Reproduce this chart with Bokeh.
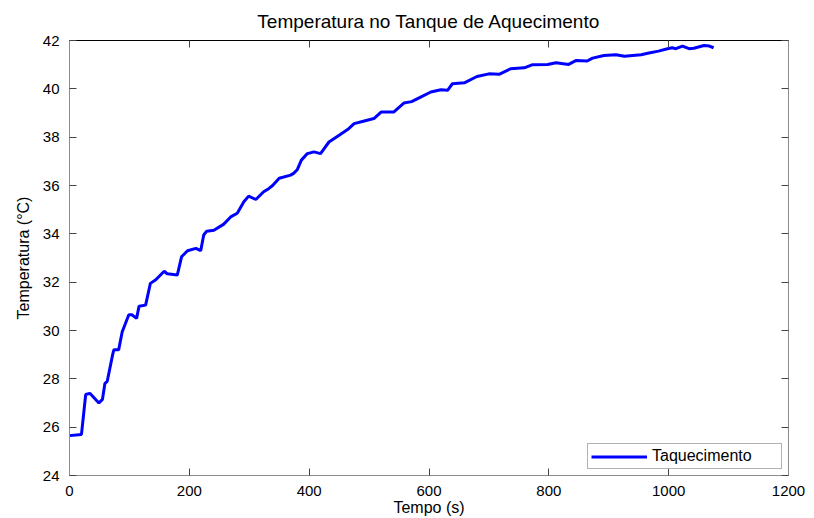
from bokeh.plotting import figure
from bokeh.models import Range1d, LinearAxis, SingleIntervalTicker, CustomJSTickFormatter, Legend, LegendItem
from bokeh.embed import file_html
from bokeh.resources import INLINE

# Data
tempo = [0, 20, 27, 34, 49, 55, 59, 63, 72, 74, 82, 88, 99, 104, 112, 116, 127, 135, 144,
         158, 163, 180, 187, 197, 211, 219, 224, 229, 241, 257, 269, 280, 291, 299, 311,
         324, 333, 339, 350, 369, 374, 380, 387, 397, 408, 419, 433, 450, 466, 475, 492,
         508, 520, 541, 558, 571, 586, 603, 620, 631, 639, 659, 680, 700, 717, 736, 759,
         773, 798, 812, 833, 845, 864, 873, 892, 912, 926, 954, 967, 983, 998, 1006, 1012,
         1023, 1034, 1042, 1059, 1068, 1075]
taquecimento = [25.65, 25.7, 27.35, 27.4, 27.0, 27.15, 27.8, 27.9, 29.0, 29.2, 29.2, 29.95,
                30.65, 30.65, 30.5, 31.0, 31.05, 31.95, 32.1, 32.45, 32.35, 32.3, 33.05,
                33.3, 33.4, 33.3, 33.95, 34.11, 34.15, 34.39, 34.7, 34.85, 35.33, 35.56,
                35.42, 35.74, 35.88, 36.0, 36.3, 36.43, 36.5, 36.65, 37.05, 37.32, 37.39,
                37.32, 37.8, 38.08, 38.35, 38.56, 38.67, 38.77, 39.04, 39.04, 39.41, 39.47,
                39.66, 39.87, 39.96, 39.94, 40.21, 40.25, 40.51, 40.62, 40.6, 40.83, 40.87,
                41.0, 41.01, 41.08, 41.01, 41.17, 41.15, 41.27, 41.38, 41.41, 41.35, 41.41,
                41.48, 41.56, 41.66, 41.70, 41.66, 41.77, 41.66, 41.68, 41.79, 41.77, 41.70]

titulo = "Temperatura no Tanque de Aquecimento"
rotulo_x = "Tempo (s)"
rotulo_y = "Temperatura (°C)"
serie = "Taquecimento"

FONT = "Liberation Sans"

p = figure(width=814, height=518, output_backend="svg", toolbar_location=None,
           x_range=Range1d(0, 1200), y_range=Range1d(24, 42),
           min_border_left=69, min_border_right=26, min_border_top=40, min_border_bottom=41)

p.title.text = titulo
p.title.align = "center"
p.title.text_font = FONT
p.title.text_font_size = "19px"
p.title.text_font_style = "normal"
p.title.text_color = "#000000"

p.grid.visible = False
p.outline_line_color = "#8c8c8c"
p.background_fill_color = "white"
p.border_fill_color = "white"

def style_axis(ax, labels=True):
    ax.axis_line_color = "#8c8c8c"
    ax.major_tick_in = 7
    ax.major_tick_out = 0
    ax.minor_tick_line_color = None
    ax.major_tick_line_color = "#444444"
    ax.major_label_text_font = FONT
    ax.major_label_text_font_size = "15px"
    ax.major_label_text_color = "#000000"
    ax.axis_label_text_font = FONT
    ax.axis_label_text_font_size = "16px"
    ax.axis_label_text_font_style = "normal"
    ax.axis_label_text_color = "#000000"
    if not labels:
        ax.formatter = CustomJSTickFormatter(code="return ''")
        ax.major_label_standoff = 0

p.xaxis.ticker = SingleIntervalTicker(interval=200)
p.yaxis.ticker = SingleIntervalTicker(interval=2)
style_axis(p.xaxis[0])
style_axis(p.yaxis[0])
p.xaxis.axis_label = rotulo_x
p.yaxis.axis_label = rotulo_y
p.xaxis.major_label_standoff = 6
p.yaxis.major_label_standoff = 6
p.xaxis.axis_label_standoff = 0
p.yaxis.axis_label_standoff = 8

top = LinearAxis(ticker=SingleIntervalTicker(interval=200))
style_axis(top, labels=False)
top.axis_line_color = "#000000"
p.add_layout(top, "above")
right = LinearAxis(ticker=SingleIntervalTicker(interval=2))
style_axis(right, labels=False)
p.add_layout(right, "right")

r = p.line(tempo, taquecimento, line_color="#0000ff", line_width=3)

legend = Legend(items=[LegendItem(label=serie, renderers=[r])],
                location=(518, 6))
legend.label_text_font = FONT
legend.label_text_font_size = "16px"
legend.label_text_color = "#000000"
legend.glyph_width = 56
legend.glyph_height = 11
legend.label_height = 11
legend.label_width = 126
legend.label_standoff = 5
legend.padding = 3
legend.spacing = 0
legend.margin = 0
legend.border_line_color = "#666666"
legend.border_line_width = 1
legend.background_fill_color = "white"
legend.background_fill_alpha = 1.0
p.add_layout(legend, "center")

open("out.html", "w").write(file_html(p, INLINE))
